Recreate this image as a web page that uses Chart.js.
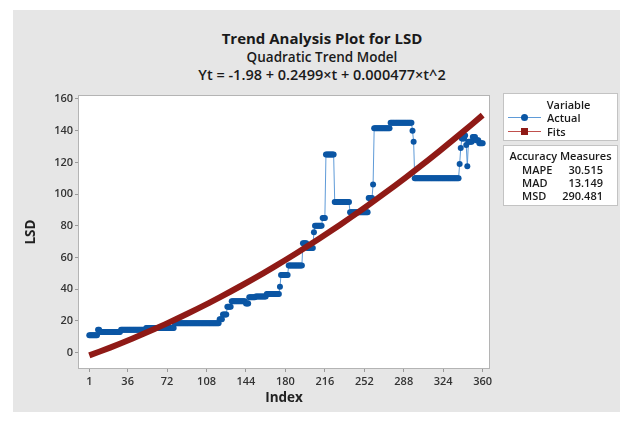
<!DOCTYPE html>
<html><head><meta charset="utf-8">
<script src="https://cdn.jsdelivr.net/npm/chart.js@4.4.1/dist/chart.umd.min.js"></script>
<style>
body{margin:0;width:631px;height:421px;background:#fff;position:relative;overflow:hidden;font-family:'Open Sans',sans-serif;color:#222}
#bg{position:absolute;left:13px;top:10px;width:607px;height:402px;background:#e6e6e6}
#wrap{position:absolute;left:13px;top:10px;width:618px;height:402px}
.t{position:absolute;left:122px;width:400px;text-align:center;white-space:nowrap;color:#1a1a1a}
#t1{top:27px;font-size:15px;font-weight:700;line-height:22px}
#t2{top:48px;font-size:13.5px;font-weight:600;line-height:18px}
#t3{top:66px;font-size:14.5px;font-weight:600;line-height:18px}
.box{position:absolute;left:503px;width:115px;background:#fff;border:1px solid #c3c3c3;box-sizing:border-box}
#lg{top:93px;height:48px}
#acc{top:145px;height:61px}
.s{position:absolute;font-size:11px;font-weight:600;line-height:14px;white-space:nowrap;color:#1a1a1a}
.ln{position:absolute;height:1px}
.mk{position:absolute}
</style>
</head><body>
<div id="bg"></div>
<div class="t" id="t1">Trend Analysis Plot for LSD</div>
<div class="t" id="t2">Quadratic Trend Model</div>
<div class="t" id="t3">Yt = -1.98 + 0.2499×t + 0.000477×t^2</div>
<div id="wrap"><canvas id="c" width="618" height="402"></canvas></div>
<div class="box" id="lg"></div>
<div class="box" id="acc"></div>
<script>
// ---- data ----
const totalPoints = 360;
const actualRunStart = [1,9,11,30,53,79,120,123,127,131,144,147,153,163,175,176,183,196,200,206,207,214,217,225,239,256,260,261,276,296,297,298,339,340,341,344,345,346,347,351,354,357];
const actualRunValue = [11,14.5,13,14.5,15.5,18.5,21,24,29,32.5,31,35,35.5,37,41.5,49,55,69,66,76,80,85,125,95,88.5,97.5,106,141.5,145,140,133,110,119,129,135,137,131,117.5,133,136,134,132];
const fitIndex = [1,10,20,30,40,50,60,70,80,90,100,110,120,130,140,150,160,170,180,190,200,210,220,230,240,250,260,270,280,290,300,310,320,330,340,350,360];
const fitValues = [-1.73,0.57,3.21,5.95,8.78,11.71,14.73,17.85,21.07,24.38,27.78,31.28,34.88,38.57,42.36,46.24,50.22,54.29,58.46,62.72,67.08,71.54,76.09,80.73,85.47,90.31,95.24,100.27,105.39,110.61,115.92,121.33,126.83,132.43,138.13,143.92,149.80];
const xTickValues = [1,36,72,108,144,180,216,252,288,324,360];
const yTickValues = [0,20,40,60,80,100,120,140,160];
const legendLabels = ['Actual','Fits'];
const accuracyNames = ['MAPE','MAD','MSD'];
const accuracyValues = ['30.515','13.149','290.481'];

// build tables
const actualData = [];
for (let k = 0; k < actualRunStart.length; k++) {
  const end = k + 1 < actualRunStart.length ? actualRunStart[k+1] - 1 : totalPoints;
  for (let i = actualRunStart[k]; i <= end; i++) actualData.push({x: i, y: actualRunValue[k]});
}
const fitData = fitIndex.map((x, i) => ({x, y: fitValues[i]}));

const BLUE = '#0b56a4', BLUE_LINE = '#5f9bd8', RED = '#8f1a16';

// legend HTML
const lg = document.getElementById('lg');
lg.innerHTML =
  '<div class="s" style="left:0;width:115px;text-align:center;top:4px;padding-left:14px;box-sizing:border-box">Variable</div>' +
  '<div class="ln" style="left:4px;top:23px;width:33px;background:' + BLUE_LINE + '"></div>' +
  '<div class="mk" style="left:17px;top:20px;width:7px;height:7px;border-radius:50%;background:' + BLUE + '"></div>' +
  '<div class="s" style="left:43px;top:17px">' + legendLabels[0] + '</div>' +
  '<div class="ln" style="left:4px;top:37px;width:33px;background:#c0504d"></div>' +
  '<div class="mk" style="left:17px;top:34px;width:7px;height:7px;background:' + RED + '"></div>' +
  '<div class="s" style="left:43px;top:31px">' + legendLabels[1] + '</div>';
const acc = document.getElementById('acc');
let h = '<div class="s" style="left:0;width:113px;text-align:center;top:3px">Accuracy Measures</div>';
accuracyNames.forEach((n, i) => {
  const top = 17 + i * 13;
  h += '<div class="s" style="left:18px;top:' + top + 'px">' + n + '</div>';
  h += '<div class="s" style="right:14px;top:' + top + 'px">' + accuracyValues[i] + '</div>';
});
acc.innerHTML = h;

const frame = {
  id: 'frame',
  beforeDatasetsDraw(chart) {
    const a = chart.chartArea, ctx = chart.ctx;
    ctx.save();
    ctx.fillStyle = '#fff';
    ctx.fillRect(a.left, a.top, a.right - a.left, a.bottom - a.top);
    ctx.strokeStyle = '#b4b4b4';
    ctx.lineWidth = 1;
    ctx.strokeRect(a.left + 0.5, a.top + 0.5, a.right - a.left - 1, a.bottom - a.top - 1);
    ctx.restore();
  }
};

const tickFont = {family: "'Open Sans', sans-serif", size: 11, weight: '600'};
const titleFont = {family: "'Open Sans', sans-serif", size: 13.5, weight: 'bold'};

new Chart(document.getElementById('c'), {
  type: 'line',
  data: {
    datasets: [
      {label: legendLabels[1], data: fitData, borderColor: RED, borderWidth: 6, pointRadius: 0, borderCapStyle: 'butt', order: 0, tension: 0},
      {label: legendLabels[0], data: actualData, borderColor: BLUE_LINE, borderWidth: 1, pointRadius: 3, pointBackgroundColor: BLUE, pointBorderWidth: 0, pointStyle: 'circle', order: 1, tension: 0}
    ]
  },
  options: {
    responsive: false,
    animation: false,
    devicePixelRatio: 1,
    layout: {padding: {top: 85, right: 141, bottom: 0, left: 0}},
    plugins: {legend: {display: false}, tooltip: {enabled: false}, title: {display: false}},
    scales: {
      x: {
        type: 'linear', min: -9.3, max: 366.7,
        afterBuildTicks: s => { s.ticks = xTickValues.map(v => ({value: v})); },
        afterFit: s => { s.height = 43; },
        grid: {display: true, drawOnChartArea: false, drawTicks: true, tickLength: 3, color: '#9a9a9a'},
        border: {display: false},
        ticks: {font: tickFont, color: '#333', padding: 3, autoSkip: false, maxRotation: 0},
        title: {display: true, text: 'Index', font: titleFont, color: '#222', padding: {top: 0, bottom: 6}}
      },
      y: {
        type: 'linear', min: -10.3, max: 162.5,
        afterBuildTicks: s => { s.ticks = yTickValues.map(v => ({value: v})); },
        afterFit: s => { s.width = 65; },
        grid: {display: true, drawOnChartArea: false, drawTicks: true, tickLength: 3, color: '#9a9a9a'},
        border: {display: false},
        ticks: {font: tickFont, color: '#333', padding: 2, autoSkip: false},
        title: {display: true, text: 'LSD', font: titleFont, color: '#222', padding: {top: 10, bottom: 0}}
      }
    }
  },
  plugins: [frame]
});
</script>
</body></html>
